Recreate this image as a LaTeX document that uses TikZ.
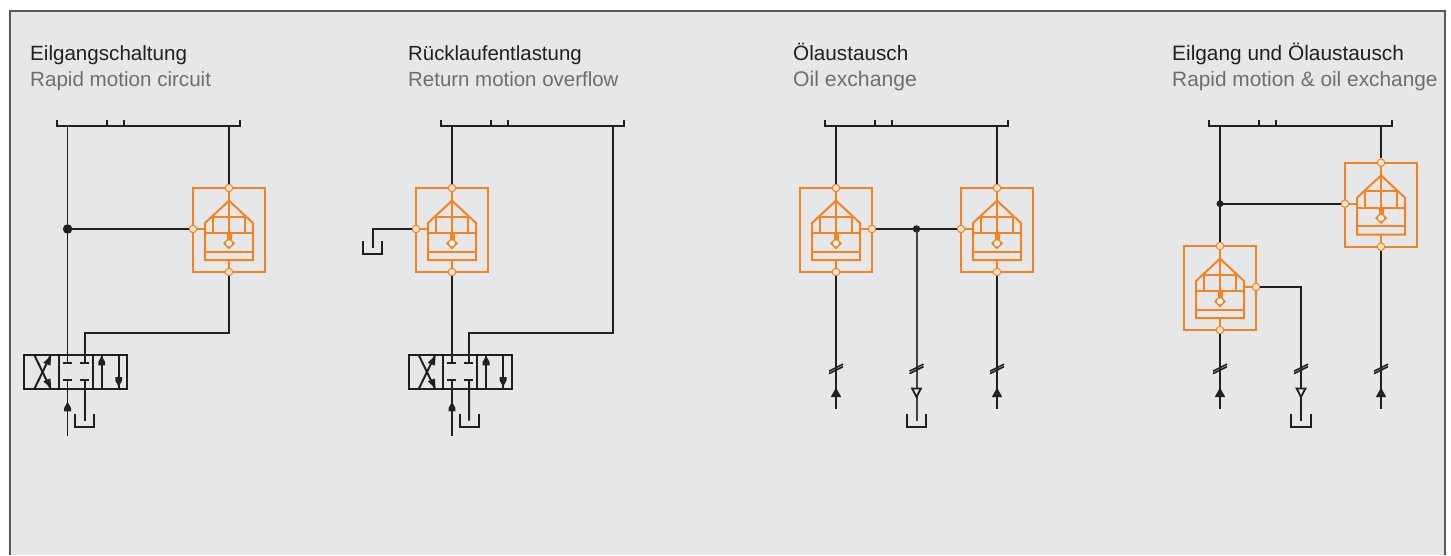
\documentclass[tikz,border=0pt]{standalone}
\usepackage{fontspec}
\setmainfont{Liberation Sans}
\definecolor{panelbg}{HTML}{E6E7E8}
\definecolor{frameg}{HTML}{58595B}
\definecolor{ink}{HTML}{231F20}
\definecolor{hydor}{HTML}{F58220}
\definecolor{portfill}{HTML}{F7E3CF}
\definecolor{subg}{HTML}{6D6E71}
\tikzset{
  x=1pt,y=-1pt,
  pipe/.style={draw=ink,line width=2pt},
  thinpipe/.style={draw=ink,line width=1.6pt},
  orline/.style={draw=hydor,line width=2pt},
  port/.style={circle,draw=hydor,fill=portfill,line width=1pt,inner sep=0pt,minimum size=7.5pt},
  junction/.style={circle,fill=ink,inner sep=0pt},
  titletext/.style={anchor=base west,inner sep=0pt,font=\fontsize{#1pt}{24pt}\selectfont,text=ink},
  subtext/.style={anchor=base west,inner sep=0pt,font=\fontsize{#1pt}{24pt}\selectfont,text=subg},
  hvalve/.pic={
    \path[orline,line join=miter] (-36,0) rectangle (36,84);
    \path[orline] (-24,72) -- (-24,35) -- (0,12.7) -- (24,35) -- (24,72) -- cycle;
    \path[orline] (-16.3,28.7) -- (16.3,28.7);
    \path[orline] (-24,45.3) -- (24,45.3);
    \path[orline] (-24,63.7) -- (24,63.7);
    \path[orline] (-16.3,28.7) -- (-16.3,45.3);
    \path[orline] (16.3,28.7) -- (16.3,45.3);
    \path[orline] (0,12.7) -- (0,45.3);
    \path[orline,line width=5pt] (0,45.3) -- (0,52);
    \fill[hydor] (-6,55.3) -- (0,49.3) -- (6,55.3) -- (0,61.3) -- cycle;
    \fill[white!70!portfill] (0,55.3) circle (3);
    \path[orline] (0,0) -- (0,12.7);
    \path[orline] (0,72) -- (0,84);
    \node[port] (-t) at (0,0) {};
    \node[port] (-b) at (0,84) {};
    \coordinate (-cl) at (-36,41);
    \coordinate (-cr) at (36,41);
    \coordinate (-sl) at (-24,41);
    \coordinate (-sr) at (24,41);
  },
  busbar/.pic={
    \path[pipe] (-1,6) -- (184,6);
    \path[pipe] (0,0) -- (0,7);
    \path[pipe] (50,0) -- (50,6);
    \path[pipe] (66.7,0) -- (66.7,6);
    \path[pipe] (183,0) -- (183,7);
    \coordinate (-m) at (0,6);
  },
  tankshape/.pic={
    \path[pipe,line join=miter] (-9.6,0) -- (-9.6,12.5) -- (9.6,12.5) -- (9.6,0);
  },
  slashmark/.pic={
    \path[draw=ink,line width=1.6pt] (-7,3.2) -- (7,-3.8);
    \path[draw=ink,line width=1.6pt] (-7,5.6) -- (7,-1.4);
  },
  headup/.pic={\fill[ink] (-5.2,4.5) -- (0,-4.8) -- (5.2,4.5) -- cycle;},
  smallup/.pic={\fill[ink] (-3.4,4.8) -- (-3.4,1.5) -- (0,-4.8) -- (3.4,1.5) -- (3.4,4.8) -- cycle;},
  smalldown/.pic={\fill[ink] (-3.4,-4.8) -- (-3.4,-1.5) -- (0,4.8) -- (3.4,-1.5) -- (3.4,-4.8) -- cycle;},
  headopen/.pic={\path[draw=ink,fill=panelbg,line width=1.8pt] (-4.4,-4) -- (0,4.5) -- (4.4,-4) -- cycle;},
  dirvalve/.pic={
    \path[pipe,line join=miter] (0,0) rectangle (103,34);
    \path[pipe] (34.4,0) -- (34.4,34);
    \path[pipe] (68.7,0) -- (68.7,34);
    \path[pipe] (10,0) -- (26.5,34);
    \path[pipe] (10,34) -- (26.5,0);
    \fill[ink] (26.8,0.5) -- (26.2,10.5) -- (19,7.8) -- cycle;
    \fill[ink] (26.8,33.5) -- (26.2,23.5) -- (19,26.2) -- cycle;
    \path[pipe] (38.4,7.7) -- (47.4,7.7);
    \path[pipe] (38.4,25) -- (47.4,25);
    \path[pipe] (55.7,7.7) -- (64.7,7.7);
    \path[pipe] (55.7,25) -- (64.7,25);
    \path[pipe] (77.4,0) -- (77.4,34);
    \path[pipe] (94.4,0) -- (94.4,34);
    \pic at (77.4,5.5) {smallup};
    \pic at (94.4,27) {smalldown};
    \coordinate (-a) at (43.3,7.7);
    \coordinate (-o) at (43.3,25);
    \coordinate (-p) at (60.4,7.7);
    \coordinate (-q) at (60.4,25);
  },
}
\begin{document}
\begin{tikzpicture}
\useasboundingbox (0,0) rectangle (1451,555);
\fill[white] (0,0) rectangle (1451,555);
\fill[panelbg] (9.5,10.5) rectangle (1445,555);
\coordinate (fa) at (9.5,555);
\coordinate (fb) at (9.5,10.5);
\coordinate (fc) at (1445,10.5);
\coordinate (fd) at (1445,555);
\draw[frameg,line width=2pt] (fa) -- (fb) -- (fc) -- (fd);

\node[titletext=20.6] (t1) at (30,60) {Eilgangschaltung};
\node[subtext=20.6] (s1) at (30,86) {Rapid motion circuit};
\node[titletext=20.4] (t2) at (408,60) {Rücklaufentlastung};
\node[subtext=20.45] (s2) at (408,86) {Return motion overflow};
\node[titletext=20.7] (t3) at (793,60) {Ölaustausch};
\node[subtext=21.2] (s3) at (793,86) {Oil exchange};
\node[titletext=20.85] (t4) at (1172,60) {Eilgang und Ölaustausch};
\node[subtext=20.85] (s4) at (1172,86) {Rapid motion \& oil exchange};

\pic (b1) at (57,120) {busbar};
\pic (b2) at (441,120) {busbar};
\pic (b3) at (825,120) {busbar};
\pic (b4) at (1209,120) {busbar};

% circuit 1
\pic (v1) at (229,188) {hvalve};
\node[port] (v1-l) at (v1-cl) {};
\pic (d1) at (24.3,355) {dirvalve};
\node[junction,minimum size=9.5pt] (j1) at (67.6,229) {};
\coordinate (g1) at (229,332.7);
\coordinate (e1) at (d1-p |- g1);
\coordinate (k1) at (84.7,420.7);
\coordinate (f1) at (67.6,436);
\pic at (84.7,414) {tankshape};
\draw[thinpipe] (d1-a |- b1-m) -- (d1-a);
\draw[thinpipe] (d1-o) -- (f1);
\pic at (67.6,406.5) {smallup};
\draw[pipe,shorten <=-2pt] (j1) -- (v1-l);
\draw[orline] (v1-l) -- (v1-sl);
\draw[pipe] (v1-t) -- (v1-t |- b1-m);
\draw[pipe] (v1-b) -- (g1) -- (e1) -- (d1-p);
\draw[pipe] (d1-q) -- (k1);

% circuit 2
\pic (v2) at (452,188) {hvalve};
\node[port] (v2-l) at (v2-cl) {};
\pic (d2) at (408.7,355) {dirvalve};
\coordinate (g2) at (613,332.7);
\coordinate (e2) at (d2-p |- g2);
\coordinate (f2) at (452,436);
\coordinate (k2) at (469.1,420.7);
\coordinate (c2) at (372.7,229);
\coordinate (k2b) at (372.7,248);
\pic at (469.1,414) {tankshape};
\pic at (372.7,241) {tankshape};
\draw[thinpipe] (d2-o) -- (f2);
\pic at (452,406.5) {smallup};
\draw[pipe] (v2-t) -- (v2-t |- b2-m);
\draw[pipe] (v2-b) -- (d2-a);
\draw[pipe] (g2 |- b2-m) -- (g2) -- (e2) -- (d2-p);
\draw[pipe] (d2-q) -- (k2);
\draw[pipe] (v2-l) -- (c2) -- (k2b);
\draw[orline] (v2-l) -- (v2-sl);

% circuit 3
\pic (v3) at (836,188) {hvalve};
\node[port] (v3-r) at (v3-cr) {};
\pic (v4) at (997,188) {hvalve};
\node[port] (v4-l) at (v4-cl) {};
\node[junction,minimum size=7.5pt] (j3) at (916.5,229) {};
\coordinate (f3a) at (836,409);
\coordinate (f3b) at (997,409);
\coordinate (k3) at (916.5,420.7);
\pic at (916.5,414) {tankshape};
\draw[pipe] (v3-t) -- (v3-t |- b3-m);
\draw[pipe] (v4-t) -- (v4-t |- b3-m);
\draw[pipe,shorten >=-2pt] (v3-r) -- (j3);
\draw[pipe,shorten <=-2pt] (j3) -- (v4-l);
\draw[orline] (v3-r) -- (v3-sr);
\draw[orline] (v4-l) -- (v4-sl);
\draw[pipe] (v3-b) -- (f3a);
\draw[pipe] (v4-b) -- (f3b);
\draw[draw=ink!85,line width=2pt,shorten <=-2pt] (j3) -- (k3);
\pic at (836,368) {slashmark};
\pic at (916.5,368) {slashmark};
\pic at (997,368) {slashmark};
\pic at (836,392.5) {headup};
\pic at (997,392.5) {headup};
\pic at (916.5,392.5) {headopen};

% circuit 4
\pic (v5) at (1381,162.7) {hvalve};
\node[port] (v5-l) at (v5-cl) {};
\pic (v6) at (1220,246) {hvalve};
\node[port] (v6-r) at (v6-cr) {};
\node[junction,minimum size=7pt] (j4) at (1220,203.7) {};
\coordinate (e4) at (1301,287);
\coordinate (k4) at (1301,420.7);
\coordinate (f4a) at (1220,409);
\coordinate (f4b) at (1381,409);
\pic at (1301,414) {tankshape};
\draw[pipe,shorten >=-2pt] (v6-t) -- (j4);
\draw[pipe,shorten <=-2pt] (j4) -- (j4 |- b4-m);
\draw[pipe,shorten <=-2pt] (j4) -- (v5-l);
\draw[orline] (v5-l) -- (v5-sl);
\draw[pipe] (v5-t) -- (v5-t |- b4-m);
\draw[pipe] (v6-r) -- (e4) -- (k4);
\draw[orline] (v6-r) -- (v6-sr);
\draw[pipe] (v6-b) -- (f4a);
\draw[pipe] (v5-b) -- (f4b);
\pic at (1220,368) {slashmark};
\pic at (1301,368) {slashmark};
\pic at (1381,368) {slashmark};
\pic at (1220,392.5) {headup};
\pic at (1381,392.5) {headup};
\pic at (1301,392.5) {headopen};
\end{tikzpicture}
\end{document}
